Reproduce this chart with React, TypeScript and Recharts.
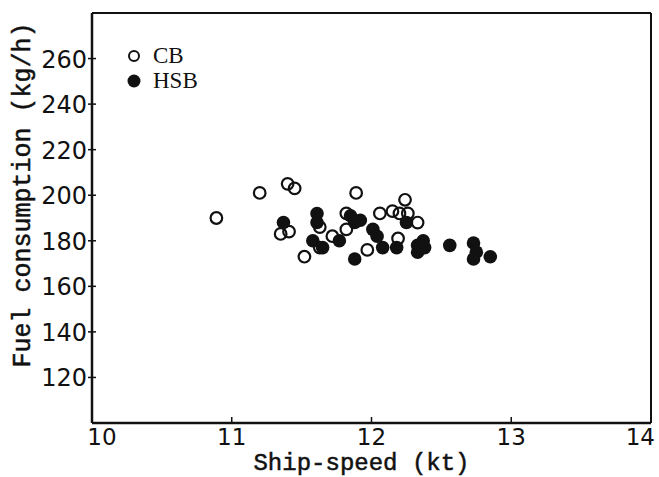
import {
  ScatterChart,
  Scatter,
  XAxis,
  YAxis,
  ReferenceLine,
  Label,
} from "recharts";

const X_TICKS = [10, 11, 12, 13, 14];
const Y_TICKS = [120, 140, 160, 180, 200, 220, 240, 260];

// CB (open circles): [speed kt, fuel kg/h]
const CB_SPEED = [10.89, 11.2, 11.4, 11.45, 11.89, 11.35, 11.41, 11.52, 11.82, 12.06, 12.15, 12.2, 12.24, 12.26, 12.33, 12.19, 11.97, 11.72, 11.63, 11.63, 11.82];
const CB_FUEL = [190, 201, 205, 203, 201, 183, 184, 173, 192, 192, 193, 192, 198, 192, 188, 181, 176, 182, 186, 177, 185];

// HSB (filled circles)
const HSB_SPEED = [11.37, 11.61, 11.61, 11.58, 11.65, 11.77, 11.85, 11.88, 11.92, 12.01, 12.04, 12.08, 11.88, 12.18, 12.25, 12.33, 12.37, 12.56, 12.73, 12.75, 12.73, 12.85, 12.33, 12.38];
const HSB_FUEL = [188, 192, 188, 180, 177, 180, 191, 188, 189, 185, 182, 177, 172, 177, 188, 178, 180, 178, 179, 175, 172, 173, 175, 177];

const cbData = CB_SPEED.map((x, i) => ({ x, y: CB_FUEL[i] }));
const hsbData = HSB_SPEED.map((x, i) => ({ x, y: HSB_FUEL[i] }));

const INK = "#111";

// eslint-disable-next-line @typescript-eslint/no-explicit-any
function OpenDot({ cx, cy }: any) {
  return <circle cx={cx} cy={cy} r={5.8} fill="#fff" fillOpacity={0} stroke={INK} strokeWidth={2.2} />;
}

// eslint-disable-next-line @typescript-eslint/no-explicit-any
function FilledDot({ cx, cy }: any) {
  return <circle cx={cx} cy={cy} r={6.8} fill={INK} />;
}

// eslint-disable-next-line @typescript-eslint/no-explicit-any
function XTick({ x, y, payload, index }: any) {
  const last = index === X_TICKS.length - 1;
  return (
    <g>
      <line x1={x} x2={x} y1={y} y2={y - 6} stroke={INK} strokeWidth={1.5} />
      <text
        x={last ? x + 4 : x + (index === 0 ? 10 : 0)}
        y={y + 22}
        textAnchor={last ? "end" : "middle"}
        fill={INK}
        fontSize={23}
        fontFamily="DejaVu Sans"
      >
        {payload.value}
      </text>
    </g>
  );
}

// eslint-disable-next-line @typescript-eslint/no-explicit-any
function YTick({ x, y, payload }: any) {
  return (
    <g>
      <line x1={x - 4} x2={x + 4} y1={y} y2={y} stroke={INK} strokeWidth={1.5} />
      <text x={x - 5} y={y + 9} textAnchor="end" fill={INK} fontSize={24} fontFamily="DejaVu Sans">
        {payload.value}
      </text>
    </g>
  );
}

// eslint-disable-next-line @typescript-eslint/no-explicit-any
function YTitle({ viewBox }: any) {
  const cx = viewBox.x + 23;
  const cy = viewBox.y + viewBox.height / 2 - 23;
  return (
    <text
      x={cx}
      y={cy}
      transform={`rotate(-90, ${cx}, ${cy})`}
      textAnchor="middle"
      dominantBaseline="central"
      fill={INK}
      stroke={INK}
      strokeWidth={0.5}
      fontSize={25}
      fontFamily="Liberation Mono"
    >
      Fuel consumption (kg/h)
    </text>
  );
}

function LegendBox() {
  const row = { display: "flex", alignItems: "center", height: 25 } as const;
  const label = { fontFamily: "Liberation Serif", fontSize: 23, color: INK, marginLeft: 11 };
  return (
    <div style={{ position: "absolute", left: 126, top: 43 }}>
      <div style={row}>
        <svg width={16} height={16}>
          <circle cx={8} cy={8} r={5} fill="none" stroke={INK} strokeWidth={2} />
        </svg>
        <span style={label}>CB</span>
      </div>
      <div style={row}>
        <svg width={16} height={16}>
          <circle cx={8} cy={8} r={6.5} fill={INK} />
        </svg>
        <span style={label}>HSB</span>
      </div>
    </div>
  );
}

export default function App() {
  return (
    <div style={{ position: "absolute", left: 0, top: 0, width: 659, height: 477, background: "#fff" }}>
      <ScatterChart width={659} height={477} margin={{ top: 13, right: 8, bottom: 0, left: 0 }}>
        <XAxis
          type="number"
          dataKey="x"
          domain={[10, 14]}
          ticks={X_TICKS}
          interval={0}
          tickSize={0}
          tickMargin={0}
          tick={<XTick />}
          height={54}
          axisLine={{ stroke: INK, strokeWidth: 2.5 }}
          allowDataOverflow
        >
          <Label
            value="Ship-speed (kt)"
            position="insideBottom"
            offset={7}
            dx={-10}
            fill={INK}
            stroke={INK}
            strokeWidth={0.5}
            fontSize={24}
            fontFamily="Liberation Mono"
          />
        </XAxis>
        <YAxis
          type="number"
          dataKey="y"
          domain={[100, 280]}
          ticks={Y_TICKS}
          interval={0}
          tickSize={0}
          tickMargin={0}
          tick={<YTick />}
          width={92}
          axisLine={{ stroke: INK, strokeWidth: 2.5 }}
          allowDataOverflow
        >
          <Label content={<YTitle />} />
        </YAxis>
        <ReferenceLine x={14} stroke={INK} strokeWidth={2} />
        <ReferenceLine y={280} stroke={INK} strokeWidth={2} />
        <Scatter data={cbData} shape={<OpenDot />} isAnimationActive={false} />
        <Scatter data={hsbData} shape={<FilledDot />} isAnimationActive={false} />
      </ScatterChart>
      <LegendBox />
    </div>
  );
}
